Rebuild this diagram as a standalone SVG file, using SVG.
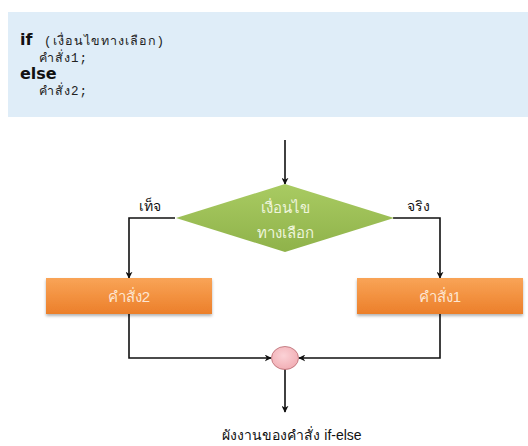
<svg xmlns="http://www.w3.org/2000/svg" width="528" height="446" viewBox="0 0 528 446">
  <defs>
    <linearGradient id="gGreen" x1="0" y1="0" x2="0" y2="1">
      <stop offset="0" stop-color="#a9cb62"/>
      <stop offset="1" stop-color="#8fb24a"/>
    </linearGradient>
    <linearGradient id="gOrange" x1="0" y1="0" x2="0" y2="1">
      <stop offset="0" stop-color="#f9a457"/>
      <stop offset="1" stop-color="#ec7f2a"/>
    </linearGradient>
    <radialGradient id="gPink" cx="0.45" cy="0.4" r="0.7">
      <stop offset="0" stop-color="#fbd2d6"/>
      <stop offset="1" stop-color="#f0a9b0"/>
    </radialGradient>
    <marker id="arrow" viewBox="0 0 10 10" refX="9" refY="5" markerWidth="7" markerHeight="7" orient="auto" markerUnits="userSpaceOnUse">
      <path d="M0,0 L10,5 L0,10 L3,5 z" fill="#111"/>
    </marker>
    <filter id="shadow" x="-10%" y="-20%" width="120%" height="150%">
      <feDropShadow dx="0" dy="2" stdDeviation="1.5" flood-color="#000" flood-opacity="0.3"/>
    </filter>
  </defs>
  <style>
    .kw { font-family: "DejaVu Sans", "Liberation Sans", sans-serif; font-weight: bold; font-size: 16px; fill: #111; }
    .code { font-family: "Liberation Mono", "Noto Sans", sans-serif; font-size: 12.5px; letter-spacing: 1px; fill: #222; }
    .lbl { font-family: "Liberation Sans", "Noto Sans", "DejaVu Sans", sans-serif; font-size: 14px; fill: #111; }
    .inner { font-family: "Liberation Sans", "Noto Sans", "DejaVu Sans", sans-serif; font-size: 15px; text-anchor: middle; }
    .conn { fill: none; stroke: #111; stroke-width: 1.6; }
  </style>
  <rect width="528" height="446" fill="#fff"/>

  <g id="code-box">
    <rect x="8" y="12" width="520" height="105" fill="#dfedf8"/>
    <text class="kw" x="20" y="45">if</text>
    <text class="code" x="44" y="45">(เงื่อนไขทางเลือก)</text>
    <text class="code" x="39" y="62">คำสั่ง1;</text>
    <text class="kw" x="20" y="79">else</text>
    <text class="code" x="39" y="95">คำสั่ง2;</text>
  </g>

  <g id="connectors">
    <line class="conn" x1="285" y1="140" x2="285" y2="184" marker-end="url(#arrow)"/>
    <polyline class="conn" points="175,218 129,218 129,278" marker-end="url(#arrow)"/>
    <polyline class="conn" points="393,218 440,218 440,278" marker-end="url(#arrow)"/>
    <polyline class="conn" points="129,314 129,358 271,358" marker-end="url(#arrow)"/>
    <polyline class="conn" points="440,314 440,358 299,358" marker-end="url(#arrow)"/>
    <line class="conn" x1="285" y1="369" x2="285" y2="412" marker-end="url(#arrow)"/>
  </g>

  <g id="decision">
    <polygon points="285,184 394,218 285,252 176,218" fill="url(#gGreen)"/>
    <text class="inner" x="285" y="213" fill="#eef5dc">เงื่อนไข</text>
    <text class="inner" x="285" y="238" fill="#eef5dc">ทางเลือก</text>
  </g>
  <text class="lbl" x="139" y="211">เท็จ</text>
  <text class="lbl" x="407" y="211">จริง</text>

  <g id="stmt2">
    <rect x="46" y="278" width="166" height="36" fill="url(#gOrange)" filter="url(#shadow)"/>
    <text class="inner" x="129" y="302" fill="#fde6d2">คำสั่ง2</text>
  </g>
  <g id="stmt1">
    <rect x="357" y="278" width="166" height="36" fill="url(#gOrange)" filter="url(#shadow)"/>
    <text class="inner" x="440" y="302" fill="#fde6d2">คำสั่ง1</text>
  </g>

  <g id="join">
    <ellipse cx="285" cy="358" rx="13.5" ry="11.5" fill="url(#gPink)" stroke="#b86a70" stroke-width="0.8"/>
  </g>

  <text class="lbl" x="292" y="440" text-anchor="middle" font-size="14px">ผังงานของคำสั่ง if-else</text>
</svg>
